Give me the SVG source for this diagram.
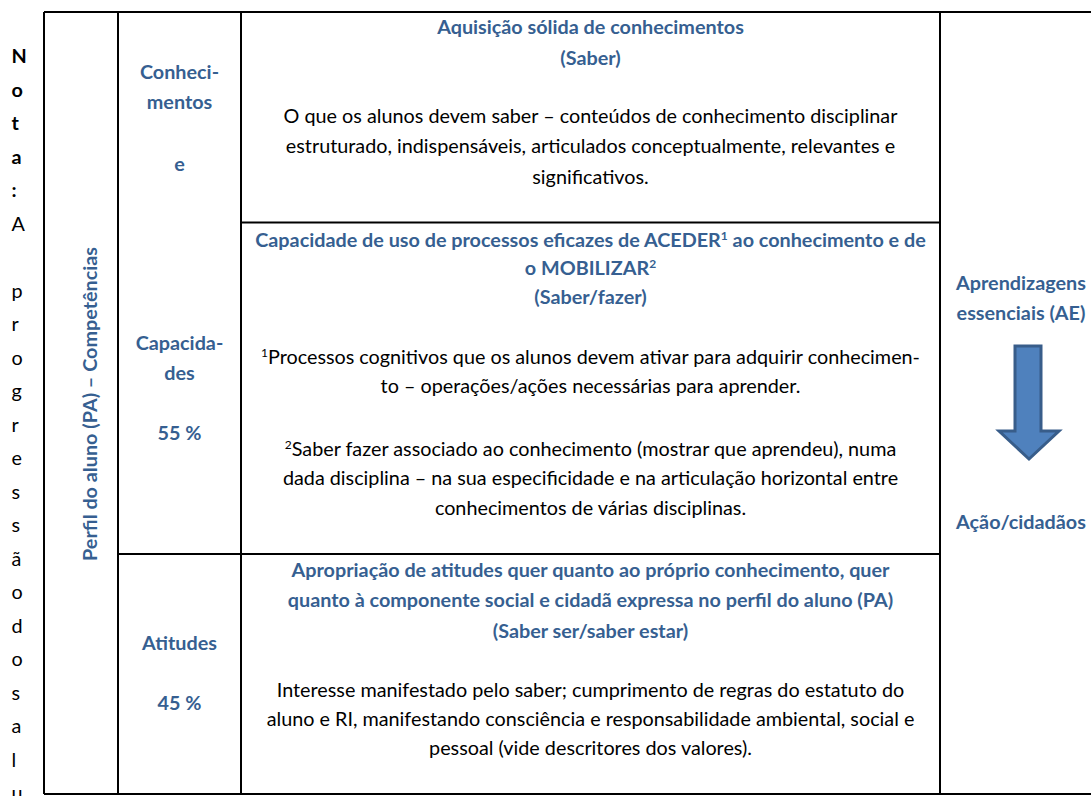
<svg xmlns="http://www.w3.org/2000/svg" width="1091" height="796" viewBox="0 0 1091 796">
<style>
text{font-family:Lato,"Liberation Sans",sans-serif;font-size:19.8px}
.b{fill:#365F91;font-weight:bold;text-anchor:middle}
.n{fill:#000;text-anchor:middle}
.l{fill:#000}
.lb{fill:#000;font-weight:bold}
.g{stroke:#000;stroke-width:2;fill:none}
.sup{font-size:12px;baseline-shift:super}
</style>
<rect width="1091" height="796" fill="#fff"/>
<g id="grid" class="g">
<line x1="44" y1="12" x2="1091" y2="12"/>
<line x1="44" y1="794" x2="1091" y2="794"/>
<line x1="44" y1="12" x2="44" y2="794"/>
<line x1="118" y1="12" x2="118" y2="794"/>
<line x1="241" y1="12" x2="241" y2="794"/>
<line x1="940" y1="12" x2="940" y2="794"/>
<line x1="241" y1="222.5" x2="940" y2="222.5"/>
<line x1="118" y1="554" x2="940" y2="554"/>
</g>
<g id="nota">
<text class="lb" x="11.5" y="63">N</text>
<text class="lb" x="11.5" y="96.5">o</text>
<text class="lb" x="11.5" y="130">t</text>
<text class="lb" x="11.5" y="163.5">a</text>
<text class="lb" x="11.5" y="197">:</text>
<text class="l" x="11.5" y="230.5">A</text>
<text class="l" x="11.5" y="297.5">p</text>
<text class="l" x="11.5" y="331">r</text>
<text class="l" x="11.5" y="364.5">o</text>
<text class="l" x="11.5" y="398">g</text>
<text class="l" x="11.5" y="431.5">r</text>
<text class="l" x="11.5" y="465">e</text>
<text class="l" x="11.5" y="498.5">s</text>
<text class="l" x="11.5" y="532">s</text>
<text class="l" x="11.5" y="565.5">ã</text>
<text class="l" x="11.5" y="599">o</text>
<text class="l" x="11.5" y="632.5">d</text>
<text class="l" x="11.5" y="666">o</text>
<text class="l" x="11.5" y="699.5">s</text>
<text class="l" x="11.5" y="733">a</text>
<text class="l" x="11.5" y="766.5">l</text>
<text class="l" x="11.5" y="800">u</text>
</g>
<g id="perfil">
<text class="b" transform="translate(97 404) rotate(-90)">Perfil do aluno (PA) – Competências</text>
</g>
<g id="conhecimentos">
<text class="b" x="179.5" y="79">Conheci-</text>
<text class="b" x="179.5" y="109">mentos</text>
<text class="b" x="179.5" y="171">e</text>
</g>
<g id="capacidades">
<text class="b" x="179.5" y="350">Capacida-</text>
<text class="b" x="179.5" y="380">des</text>
<text class="b" x="179.5" y="440">55 %</text>
</g>
<g id="atitudes">
<text class="b" x="179.5" y="650">Atitudes</text>
<text class="b" x="179.5" y="710">45 %</text>
</g>
<g id="saber">
<text class="b" x="590.5" y="34">Aquisição sólida de conhecimentos</text>
<text class="b" x="590.5" y="65">(Saber)</text>
<text class="n" x="590.5" y="123">O que os alunos devem saber – conteúdos de conhecimento disciplinar</text>
<text class="n" x="590.5" y="153">estruturado, indispensáveis, articulados conceptualmente, relevantes e</text>
<text class="n" x="590.5" y="184">significativos.</text>
</g>
<g id="saber-fazer">
<text class="b" x="590.5" y="247">Capacidade de uso de processos eficazes de ACEDER<tspan class="sup">1</tspan> ao conhecimento e de</text>
<text class="b" x="590.5" y="275">o MOBILIZAR<tspan class="sup">2</tspan></text>
<text class="b" x="590.5" y="304">(Saber/fazer)</text>
<text class="n" x="590.5" y="364"><tspan class="sup">1</tspan>Processos cognitivos que os alunos devem ativar para adquirir conhecimen-</text>
<text class="n" x="590.5" y="393">to – operações/ações necessárias para aprender.</text>
<text class="n" x="590.5" y="456"><tspan class="sup">2</tspan>Saber fazer associado ao conhecimento (mostrar que aprendeu), numa</text>
<text class="n" x="590.5" y="485">dada disciplina – na sua especificidade e na articulação horizontal entre</text>
<text class="n" x="590.5" y="515">conhecimentos de várias disciplinas.</text>
</g>
<g id="saber-ser">
<text class="b" x="590.5" y="577">Apropriação de atitudes quer quanto ao próprio conhecimento, quer</text>
<text class="b" x="590.5" y="607">quanto à componente social e cidadã expressa no perfil do aluno (PA)</text>
<text class="b" x="590.5" y="638">(Saber ser/saber estar)</text>
<text class="n" x="590.5" y="697">Interesse manifestado pelo saber; cumprimento de regras do estatuto do</text>
<text class="n" x="590.5" y="726">aluno e RI, manifestando consciência e responsabilidade ambiental, social e</text>
<text class="n" x="590.5" y="755">pessoal (vide descritores dos valores).</text>
</g>
<g id="ae">
<text class="b" x="1021" y="290">Aprendizagens</text>
<text class="b" x="1021" y="320">essenciais (AE)</text>
<path d="M1015 346 H1041 V431 H1059 L1029 459 L999 431 H1015 Z" fill="#4F81BD" stroke="#385D8A" stroke-width="3" stroke-linejoin="miter"/>
<text class="b" x="1021" y="529">Ação/cidadãos</text>
</g>
</svg>
